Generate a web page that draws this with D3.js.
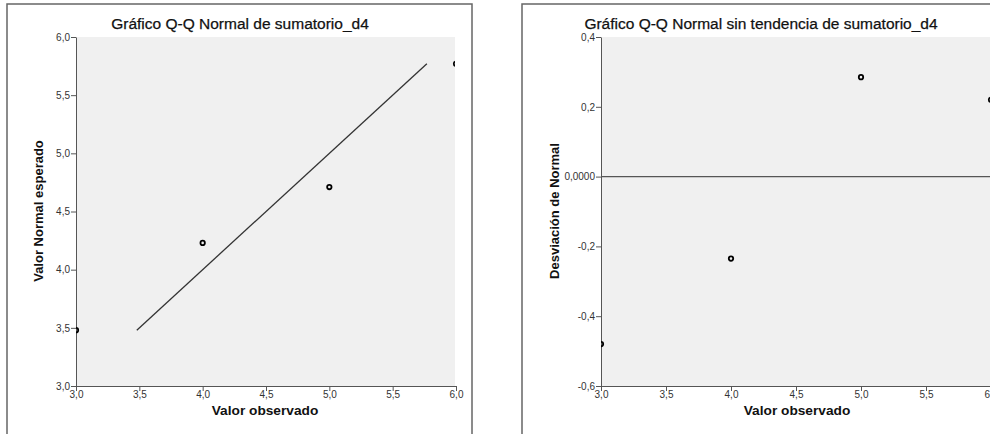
<!DOCTYPE html>
<html><head><meta charset="utf-8">
<script src="https://cdn.jsdelivr.net/npm/d3@7"></script>
<style>html,body{margin:0;padding:0;background:#fff;overflow:hidden}svg{display:block;font-family:"Liberation Sans",Arial,sans-serif}</style>
</head><body>
<svg id="c" width="990" height="434"></svg>
<script>
// Data
const observed = [3, 4, 5, 6];
const expectedNormal = [3.48, 4.23, 4.71, 5.77];
const deviation = [-0.48, -0.235, 0.285, 0.22];
const refLine = [3.48, 5.77];
const xTicks = [3.0, 3.5, 4.0, 4.5, 5.0, 5.5, 6.0];
const xTickLabels = ["3,0", "3,5", "4,0", "4,5", "5,0", "5,5", "6,0"];
const yTicksL = [3.0, 3.5, 4.0, 4.5, 5.0, 5.5, 6.0];
const yTickLabelsL = ["3,0", "3,5", "4,0", "4,5", "5,0", "5,5", "6,0"];
const yTicksR = [0.4, 0.2, 0.0, -0.2, -0.4, -0.6];
const yTickLabelsR = ["0,4", "0,2", "0,0000", "-0,2", "-0,4", "-0,6"];

const svg = d3.select("#c");
const axisCol = "#555";

function panel(opt) {
  const g = svg.append("g");
  g.append("rect").attr("x", opt.frameX).attr("y", 4).attr("width", opt.frameW).attr("height", 460)
    .attr("fill", "none").attr("stroke", "#666").attr("stroke-width", 1.5);
  const x = d3.scaleLinear().domain([3, 6]).range([opt.x0, opt.x1]);
  const y = d3.scaleLinear().domain(opt.yDomain).range([386, 37]);
  const clipId = "clip" + opt.id;
  g.append("clipPath").attr("id", clipId).append("rect")
    .attr("x", opt.x0).attr("y", 37).attr("width", opt.plotW).attr("height", 349);
  g.append("rect").attr("x", opt.x0).attr("y", 37).attr("width", opt.plotW).attr("height", 349).attr("fill", "#f0f0f0");
  const xa = g.append("g").attr("transform", "translate(0,386)")
    .call(d3.axisBottom(x).tickValues(xTicks).tickSize(5).tickSizeOuter(0).tickFormat((d, i) => xTickLabels[i]));
  const ya = g.append("g").attr("transform", `translate(${opt.x0},0)`)
    .call(d3.axisLeft(y).tickValues(opt.yTicks).tickSize(5).tickSizeOuter(0).tickFormat((d, i) => opt.yLabels[i]));
  [xa, ya].forEach(a => {
    a.select(".domain").attr("stroke", axisCol);
    a.selectAll(".tick line").attr("stroke", axisCol);
    a.selectAll("text").attr("fill", "#333").style("font-size", "10px");
  });
  xa.selectAll("text").attr("dy", "0.55em").attr("y", 6);
  ya.selectAll("text").attr("x", -6);
  const pg = g.append("g").attr("clip-path", `url(#${clipId})`);
  opt.drawRef(pg, x, y);
  pg.selectAll("circle").data(opt.points).join("circle")
    .attr("cx", d => x(d[0])).attr("cy", d => y(d[1])).attr("r", 2.2)
    .attr("fill", "none").attr("stroke", "#000").attr("stroke-width", 1.8);
  g.append("text").attr("x", opt.titleX).attr("y", 29).attr("text-anchor", "middle")
    .style("font-size", "15.5px").attr("fill", "#111").attr("stroke", "#111").attr("stroke-width", 0.25)
    .text(opt.title);
  g.append("text").attr("x", opt.xLabX).attr("y", 415).attr("text-anchor", "middle")
    .style("font-size", "13.7px").style("font-weight", "bold").attr("fill", "#111").text("Valor observado");
  g.append("text").attr("transform", `translate(${opt.yLabX},211) rotate(-90)`).attr("text-anchor", "middle")
    .style("font-size", "13px").style("font-weight", "bold").attr("fill", "#111").text(opt.yLabel);
}

panel({
  id: "L", frameX: 7, frameW: 465, x0: 76, x1: 456, plotW: 379,
  yDomain: [3, 6], yTicks: yTicksL, yLabels: yTickLabelsL,
  points: observed.map((o, i) => [o, expectedNormal[i]]),
  drawRef: (pg, x, y) => pg.append("line").attr("x1", x(refLine[0])).attr("y1", y(refLine[0]))
    .attr("x2", x(refLine[1])).attr("y2", y(refLine[1])).attr("stroke", "#333").attr("stroke-width", 1.3),
  title: "Gráfico Q-Q Normal de sumatorio_d4", titleX: 240, xLabX: 265, yLabX: 43,
  yLabel: "Valor Normal esperado"
});

panel({
  id: "R", frameX: 522, frameW: 500, x0: 601, x1: 991, plotW: 420,
  yDomain: [-0.6, 0.4], yTicks: yTicksR, yLabels: yTickLabelsR,
  points: observed.map((o, i) => [o, deviation[i]]),
  drawRef: (pg, x, y) => pg.append("line").attr("x1", x(3)).attr("y1", y(0))
    .attr("x2", x(6) + 30).attr("y2", y(0)).attr("stroke", "#555").attr("stroke-width", 1.3),
  title: "Gráfico Q-Q Normal sin tendencia de sumatorio_d4", titleX: 761, xLabX: 797, yLabX: 559,
  yLabel: "Desviación de Normal"
});
</script>
</body></html>
